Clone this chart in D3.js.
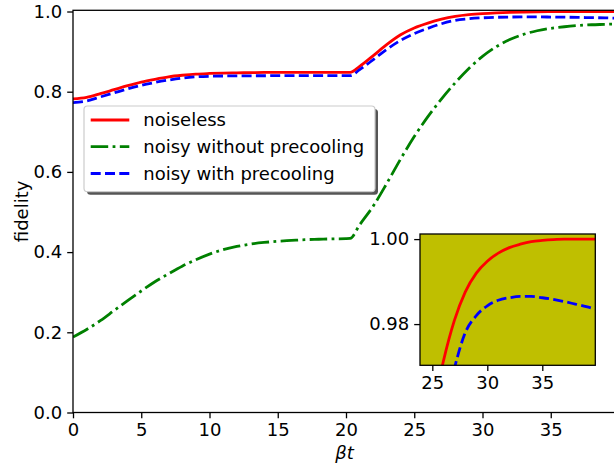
<!DOCTYPE html>
<html>
<head>
<meta charset="utf-8">
<script src="https://cdn.jsdelivr.net/npm/d3@7"></script>
<style>
  html, body { margin: 0; padding: 0; background: #fff; }
  svg { display: block; }
  text { font-family: "DejaVu Sans", sans-serif; fill: #000; }
</style>
</head>
<body>
<svg id="chart" width="614" height="465"></svg>
<script>
// ---- data ----
const times = [0,1,2,3,4,5,6,7,8,9,10,11,12,13,14,15,16,17,18,19,20,20.3,21,22,23,24,25,26,27,28,29,30,31,32,33,34,35,36,37,38,39,39.8];
const noiseless = [0.782,0.786,0.795,0.805,0.815,0.824,0.831,0.837,0.841,0.844,0.8455,0.8465,0.847,0.8475,0.848,0.848,0.848,0.848,0.848,0.848,0.848,0.848,
  0.863,0.890,0.918,0.942,0.959,0.9712,0.9808,0.9876,0.992,0.9948,0.9967,0.998,0.9988,0.9994,0.9997,0.9999,1.0,1.0,1.0,1.0];
const noisyNoPre = [0.188,0.207,0.229,0.254,0.279,0.303,0.326,0.346,0.365,0.381,0.395,0.406,0.414,0.420,0.424,0.427,0.429,0.431,0.432,0.433,0.4335,0.434,
  0.468,0.515,0.572,0.632,0.688,0.738,0.782,0.822,0.858,0.888,0.912,0.930,0.943,0.952,0.958,0.962,0.965,0.967,0.968,0.969];
const noisyPre = [0.773,0.777,0.787,0.797,0.807,0.816,0.823,0.829,0.834,0.837,0.8385,0.8392,0.8395,0.8397,0.8398,0.84,0.84,0.84,0.84,0.84,0.84,0.84,
  0.855,0.880,0.906,0.928,0.945,0.958,0.9695,0.978,0.982,0.9843,0.9856,0.9862,0.9865,0.9865,0.9862,0.9858,0.9853,0.9847,0.9841,0.9835];

const seriesNames = ["noiseless", "noisy without precooling", "noisy with precooling"];
const seriesData = [noiseless, noisyNoPre, noisyPre];
const seriesColors = ["#ff0000", "#008000", "#0000ff"];
const seriesDash = [null, "17.5,4.4,2.8,4.4", "10,4.3"];

const mainXTicks = [0,5,10,15,20,25,30,35];
const mainYTicks = [0.0,0.2,0.4,0.6,0.8,1.0];
const insetXTicks = [25,30,35];
const insetYTicks = [0.98,1.00];

const svg = d3.select("#chart");
const FS = 18;
const LW = 2.8;

// ---- main axes ----
const mx0 = 73, mx1 = 73 + 39.8*13.65, my0 = 412.5, my1 = 10.3;
const x = d3.scaleLinear().domain([0, 39.8]).range([mx0, mx1]);
const y = d3.scaleLinear().domain([0, 1.003]).range([my0, my1]);

svg.append("defs").append("clipPath").attr("id","mainclip")
  .append("rect").attr("x", mx0).attr("y", my1).attr("width", mx1-mx0).attr("height", my0-my1);

const pts = (vals) => times.map((t,i)=>[t, vals[i]]);

const lineMain = d3.line().x(d=>x(d[0])).y(d=>y(d[1])).curve(d3.curveMonotoneX);
const gMain = svg.append("g").attr("clip-path","url(#mainclip)");
const order = [1, 0, 2];
order.forEach(i => {
  gMain.append("path").datum(pts(seriesData[i]))
    .attr("d", lineMain).attr("fill","none")
    .attr("stroke", seriesColors[i]).attr("stroke-width", LW)
    .attr("stroke-dasharray", seriesDash[i])
    .attr("stroke-linecap","butt");
});

// axes
const xAxis = d3.axisBottom(x).tickValues(mainXTicks).tickFormat(d3.format("d")).tickSize(5.8).tickPadding(5);
const yAxis = d3.axisLeft(y).tickValues(mainYTicks).tickFormat(d3.format(".1f")).tickSize(5.8).tickPadding(5);
const gx = svg.append("g").attr("transform", `translate(0,${my0})`).call(xAxis);
const gy = svg.append("g").attr("transform", `translate(${mx0},0)`).call(yAxis);
[gx, gy].forEach(g => {
  g.select(".domain").remove();
  g.selectAll("line").attr("stroke","#000").attr("stroke-width",1.3);
  g.selectAll("text").attr("font-size", FS).attr("font-family","DejaVu Sans").attr("fill","#000");
});
// spines
svg.append("rect").attr("x", mx0).attr("y", my1).attr("width", mx1-mx0).attr("height", my0-my1)
  .attr("fill","none").attr("stroke","#000").attr("stroke-width",1.3);

// labels
svg.append("text").attr("x", (mx0+mx1)/2).attr("y", 459).attr("text-anchor","middle")
  .attr("font-size", FS).append("tspan").attr("font-style","italic").text("βt");
svg.append("text").attr("transform", `translate(28,${(my0+my1)/2}) rotate(-90)`)
  .attr("text-anchor","middle").attr("font-size", FS).text("fidelity");

// ---- legend ----
const lg = svg.append("g");
const lx = 84, ly = 106, lw = 291, lh = 85.7;
lg.append("rect").attr("x", lx+3).attr("y", ly+3).attr("width", lw).attr("height", lh).attr("rx",3.5)
  .attr("fill","#555");
lg.append("rect").attr("x", lx).attr("y", ly).attr("width", lw).attr("height", lh).attr("rx",3.5)
  .attr("fill","#fff").attr("stroke","#cccccc").attr("stroke-width",1.2);
const rowY = [120, 146.7, 173.5];
seriesNames.forEach((name, i) => {
  lg.append("line").attr("x1", 90.7).attr("x2", 129.3).attr("y1", rowY[i]).attr("y2", rowY[i])
    .attr("stroke", seriesColors[i]).attr("stroke-width", LW).attr("stroke-dasharray", seriesDash[i]);
  lg.append("text").attr("x", 143.3).attr("y", rowY[i]).attr("dy","0.35em").attr("font-size", FS).text(name);
});

// ---- inset ----
const ix0 = 420, ix1 = 595.3, iy0 = 365.3, iy1 = 234;
const xi = d3.scaleLinear().domain([23.88, 39.82]).range([ix0, ix1]);
const yi = d3.scaleLinear().domain([0.9703, 1.0012]).range([iy0, iy1]);
svg.append("rect").attr("x", ix0).attr("y", iy1).attr("width", ix1-ix0).attr("height", iy0-iy1)
  .attr("fill","#bfbf00");
svg.select("defs").append("clipPath").attr("id","insetclip")
  .append("rect").attr("x", ix0).attr("y", iy1).attr("width", ix1-ix0).attr("height", iy0-iy1);
const lineInset = d3.line().x(d=>xi(d[0])).y(d=>yi(d[1])).curve(d3.curveMonotoneX);
const gIn = svg.append("g").attr("clip-path","url(#insetclip)");
[0, 2].forEach(i => {
  gIn.append("path").datum(pts(seriesData[i]))
    .attr("d", lineInset).attr("fill","none")
    .attr("stroke", seriesColors[i]).attr("stroke-width", LW)
    .attr("stroke-dasharray", seriesDash[i]).attr("stroke-linecap","butt");
});
const xiAxis = d3.axisBottom(xi).tickValues(insetXTicks).tickFormat(d3.format("d")).tickSize(5.8).tickPadding(5);
const yiAxis = d3.axisLeft(yi).tickValues(insetYTicks).tickFormat(d3.format(".2f")).tickSize(5.8).tickPadding(5);
const gxi = svg.append("g").attr("transform", `translate(0,${iy0})`).call(xiAxis);
const gyi = svg.append("g").attr("transform", `translate(${ix0},0)`).call(yiAxis);
[gxi, gyi].forEach(g => {
  g.select(".domain").remove();
  g.selectAll("line").attr("stroke","#000").attr("stroke-width",1.3);
  g.selectAll("text").attr("font-size", FS).attr("font-family","DejaVu Sans").attr("fill","#000");
});
svg.append("rect").attr("x", ix0).attr("y", iy1).attr("width", ix1-ix0).attr("height", iy0-iy1)
  .attr("fill","none").attr("stroke","#000").attr("stroke-width",1.3);
</script>
</body>
</html>
